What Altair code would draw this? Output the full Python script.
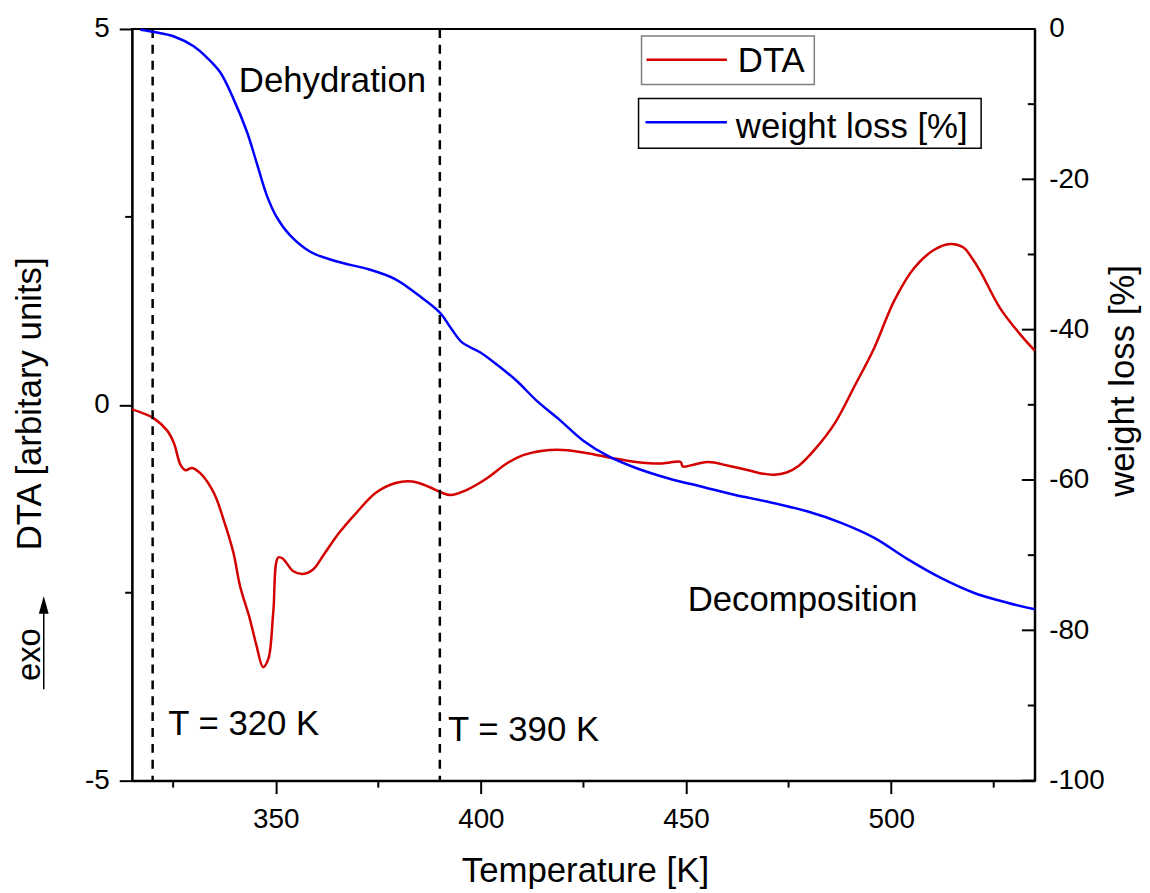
import altair as alt
import pandas as pd

# ---------------- data ----------------
dta_T = [315.0, 318.0, 320.3, 323.5, 325.2, 326.8, 328.0, 329.6, 331.6, 334.9,
         337.3, 339.7, 341.3, 343.7, 345.3, 346.9, 348.2, 349.4, 350.6, 351.8,
         354.2, 356.6, 359.1, 361.5, 365.5, 369.6, 374.4, 379.2, 383.3, 387.3,
         390.5, 392.6, 396.6, 401.4, 406.3, 410.3, 415.1, 420.0, 425.7, 432.1,
         437.8, 444.2, 448.7, 449.2, 452.3, 455.5, 460.3, 465.2, 468.0, 471.5,
         474.5, 477.5, 481.3, 486.2, 491.0, 495.9, 500.7, 505.6, 510.4, 514.4,
         517.7, 519.6, 521.7, 526.5, 531.4, 535.0]
dta_V = [-0.06, -0.12, -0.18, -0.34, -0.51, -0.80, -0.87, -0.84, -0.91, -1.17,
         -1.53, -1.97, -2.41, -2.85, -3.20, -3.49, -3.38, -2.76, -2.03, -2.05,
         -2.21, -2.25, -2.19, -2.01, -1.70, -1.44, -1.17, -1.04, -1.02, -1.09,
         -1.17, -1.20, -1.13, -0.98, -0.78, -0.67, -0.61, -0.60, -0.64, -0.71,
         -0.76, -0.78, -0.76, -0.82, -0.79, -0.76, -0.81, -0.87, -0.91, -0.93,
         -0.90, -0.81, -0.60, -0.25, 0.24, 0.76, 1.38, 1.82, 2.06, 2.14,
         2.09, 1.96, 1.78, 1.29, 0.94, 0.72]

wt_T = [317.0, 320.3, 325.2, 330.0, 333.2, 336.5, 339.7, 343.0, 345.3, 347.8,
        350.2, 353.4, 358.3, 364.7, 372.8, 379.2, 385.7, 390.1, 392.6, 395.4,
        399.8, 403.8, 408.7, 413.5, 419.2, 424.8, 431.3, 437.8, 445.8, 453.9,
        462.0, 470.0, 479.7, 487.8, 495.9, 503.9, 512.0, 520.1, 528.1, 535.0]
wt_V = [-0.1, -0.4, -1.0, -2.3, -3.8, -5.8, -9.3, -13.7, -17.7, -22.1,
        -25.0, -27.4, -29.6, -30.9, -32.0, -33.3, -35.8, -37.8, -39.7, -41.7,
        -43.0, -44.6, -46.8, -49.4, -52.0, -54.7, -56.9, -58.4, -59.8, -60.9,
        -62.0, -62.9, -64.2, -65.7, -67.7, -70.5, -73.0, -75.0, -76.3, -77.2]

x_major = [350, 400, 450, 500]
x_minor = [325, 375, 425, 475, 525]
dta_major = [-5, 0, 5]
dta_minor = [-2.5, 2.5]
wt_major = [-100, -80, -60, -40, -20, 0]
wt_minor = [-90, -70, -50, -30, -10]
marker_T = [320, 390]

ann_label = ["Dehydration", "Decomposition", "T = 320 K", "T = 390 K"]
ann_T = [341.0, 450.4, 323.8, 392.0]
ann_V = [4.155, -2.741, -4.392, -4.472]

legend_labels = ["DTA", "weight loss [%]"]

# ---------------- styling ----------------
FONT = "Liberation Sans"
RED = "#d40000"
BLUE = "#0000ff"
W, H = 909, 757

dta_df = pd.DataFrame({"T": dta_T, "DTA": dta_V})
wt_df = pd.DataFrame({"T": wt_T, "W": wt_V})

x_enc = alt.X(
    "T:Q",
    scale=alt.Scale(domain=[315, 535], nice=False, zero=False),
    axis=alt.Axis(values=x_major, labelExpr="'' + datum.value", tickSize=13,
                  labelPadding=12, title="Temperature [K]", titleX=456,
                  titleY=102, titleBaseline="alphabetic", titleAlign="center"),
)
y_dta = alt.Y(
    "DTA:Q",
    scale=alt.Scale(domain=[-5, 5], nice=False, zero=False),
    axis=alt.Axis(orient="left", values=dta_major, labelExpr="'' + datum.value",
                  tickSize=13, labelPadding=10, title="DTA [arbitary units]",
                  titleAngle=270, titleX=-92, titleY=377, titleAlign="center",
                  titleBaseline="alphabetic"),
)
y_wt = alt.Y(
    "W:Q",
    scale=alt.Scale(domain=[-100, 0], nice=False, zero=False),
    axis=alt.Axis(orient="right", values=wt_major, labelExpr="'' + datum.value",
                  ticks=False, tickSize=0, labelPadding=14,
                  title="weight loss [%]", titleAngle=270, titleX=99,
                  titleY=354, titleAlign="center", titleBaseline="alphabetic"),
)

red = alt.Chart(dta_df).mark_line(color=RED, strokeWidth=2.5, interpolate="catmull-rom").encode(
    x=x_enc, y=y_dta)

dashed = alt.Chart(pd.DataFrame({"T": marker_T})).mark_rule(
    color="black", strokeWidth=2.5, strokeDash=[9, 7]).encode(x=x_enc)

x_minor_ticks = alt.Chart(pd.DataFrame({"T": x_minor})).mark_rule(
    color="black", strokeWidth=2).encode(x=x_enc, y=alt.value(H), y2=alt.value(H + 7))

y_minor_ticks = alt.Chart(pd.DataFrame({"DTA": dta_minor})).mark_rule(
    color="black", strokeWidth=2).encode(y=y_dta, x=alt.value(-7), x2=alt.value(0))

ann = alt.Chart(pd.DataFrame({"T": ann_T, "DTA": ann_V, "label": ann_label})).mark_text(
    align="left", baseline="alphabetic", font=FONT, fontSize=35, color="black").encode(
    x=x_enc, y=y_dta, text="label:N")

exo = alt.Chart(alt.Data(values=[{"t": "exo"}])).mark_text(
    angle=270, align="center", baseline="alphabetic", font=FONT, fontSize=33,
    color="black").encode(x=alt.value(-93), y=alt.value(630), text="t:N")

arrow_line = alt.Chart(alt.Data(values=[{"a": 1}])).mark_rule(
    color="black", strokeWidth=1.5).encode(x=alt.value(-89), y=alt.value(588), y2=alt.value(665))

arrow_head = alt.Chart(alt.Data(values=[{"a": 1}])).mark_point(
    shape="M0,-1L-0.55,1L0.55,1Z", filled=True, size=324, color="black",
    opacity=1).encode(x=alt.value(-89), y=alt.value(580))

# legend (two separate framed boxes)
leg_box1 = alt.Chart(alt.Data(values=[{"a": 1}])).mark_rect(
    fill="white", stroke="#7f7f7f", strokeWidth=1.5).encode(
    x=alt.value(513), x2=alt.value(687), y=alt.value(7), y2=alt.value(56))
leg_line1 = alt.Chart(alt.Data(values=[{"a": 1}])).mark_rule(
    color=RED, strokeWidth=2.5).encode(x=alt.value(518), x2=alt.value(599), y=alt.value(31))
leg_text1 = alt.Chart(alt.Data(values=[{"t": legend_labels[0]}])).mark_text(
    align="left", baseline="alphabetic", font=FONT, fontSize=35, color="black").encode(
    x=alt.value(610), y=alt.value(43.5), text="t:N")

leg_box2 = alt.Chart(alt.Data(values=[{"a": 1}])).mark_rect(
    fill="white", stroke="black", strokeWidth=1.5).encode(
    x=alt.value(510), x2=alt.value(855), y=alt.value(70), y2=alt.value(120))
leg_line2 = alt.Chart(alt.Data(values=[{"a": 1}])).mark_rule(
    color=BLUE, strokeWidth=2.5).encode(x=alt.value(517), x2=alt.value(599), y=alt.value(94))
leg_text2 = alt.Chart(alt.Data(values=[{"t": legend_labels[1]}])).mark_text(
    align="left", baseline="alphabetic", font=FONT, fontSize=35, color="black").encode(
    x=alt.value(608), y=alt.value(110), text="t:N")

blue = alt.Chart(wt_df).mark_line(color=BLUE, strokeWidth=2.5, interpolate="catmull-rom").encode(
    x=x_enc, y=y_wt)
wt_major_ticks = alt.Chart(pd.DataFrame({"W": wt_major})).mark_rule(
    color="black", strokeWidth=2).encode(y=y_wt, x=alt.value(W - 13), x2=alt.value(W))
wt_minor_ticks = alt.Chart(pd.DataFrame({"W": wt_minor})).mark_rule(
    color="black", strokeWidth=2).encode(y=y_wt, x=alt.value(W - 7), x2=alt.value(W))

dta_group = alt.layer(red, dashed, x_minor_ticks, y_minor_ticks, ann, exo, arrow_line,
                      arrow_head, leg_box1, leg_line1, leg_text1, leg_box2, leg_line2,
                      leg_text2)
wt_group = alt.layer(blue, wt_major_ticks, wt_minor_ticks)

chart = alt.layer(dta_group, wt_group).resolve_scale(y="independent").properties(
    width=W, height=H, autosize="none",
    padding={"left": 125, "top": 18, "right": 108, "bottom": 110},
    background="white",
).configure_view(stroke="black", strokeWidth=2).configure_axis(
    grid=False, domainColor="black", domainWidth=2, tickColor="black", tickWidth=2,
    labelFont=FONT, labelFontSize=28, labelColor="black",
    titleFont=FONT, titleFontSize=35, titleFontWeight="normal", titleColor="black",
)

chart.save("out.html", embed_options={"renderer": "svg", "actions": False})
